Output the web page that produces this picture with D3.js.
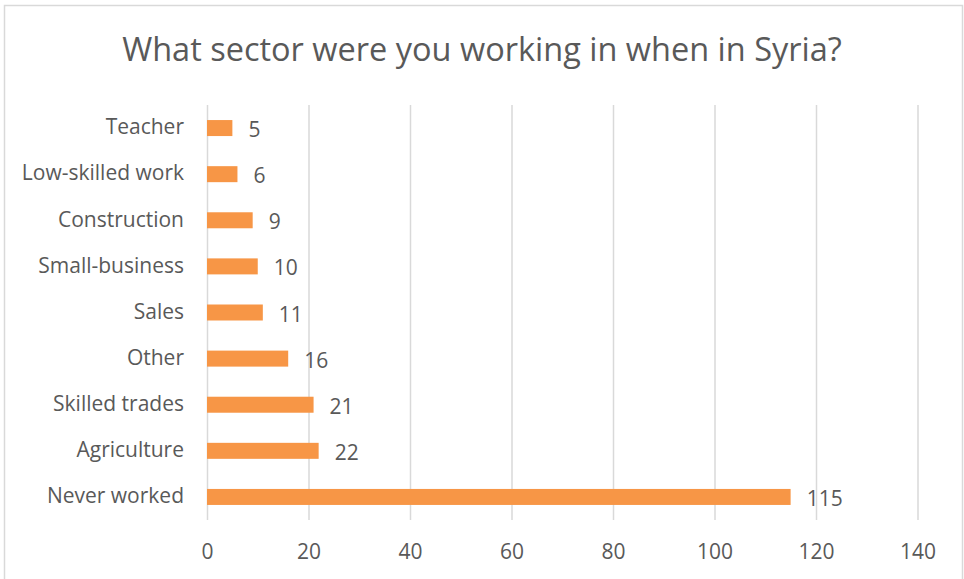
<!DOCTYPE html>
<html>
<head>
<meta charset="utf-8">
<script src="https://cdn.jsdelivr.net/npm/d3@7"></script>
<style>
  html, body { margin: 0; padding: 0; background: #ffffff; }
  svg { display: block; }
  text { font-family: "Open Sans", "Noto Sans", sans-serif; fill: #595959; }
</style>
</head>
<body>
<script>
const title = "What sector were you working in when in Syria?";
const categories = ["Teacher", "Low-skilled work", "Construction", "Small-business", "Sales", "Other", "Skilled trades", "Agriculture", "Never worked"];
const values = [5, 6, 9, 10, 11, 16, 21, 22, 115];
const xTicks = [0, 20, 40, 60, 80, 100, 120, 140];

const W = 964, H = 579;
const svg = d3.select("body").append("svg").attr("width", W).attr("height", H);

// chart border
svg.append("rect")
  .attr("x", 4.5).attr("y", 5.5)
  .attr("width", 958).attr("height", 600)
  .attr("fill", "#fff").attr("stroke", "#d9d9d9").attr("stroke-width", 1.5);

const x = d3.scaleLinear().domain([0, 140]).range([207, 917.5]);
const y = d3.scaleBand().domain(categories).range([105, 520])
  .paddingInner(0.653).paddingOuter(0.653 / 2);

// title
svg.append("text")
  .attr("x", 482).attr("y", 61)
  .attr("text-anchor", "middle")
  .style("font-size", "32.5px")
  .text(title);

// gridlines
const xAxis = d3.axisBottom(x).tickValues(xTicks).tickSize(-(520 - 105)).tickPadding(14).tickFormat(d3.format("d"));
const gx = svg.append("g").attr("transform", "translate(0,520)").call(xAxis);
gx.select(".domain").remove();
gx.selectAll(".tick line").attr("stroke", "#d9d9d9").attr("stroke-width", 1.5);
gx.selectAll(".tick text")
  .attr("y", 0).attr("dy", null)
  .attr("transform", "translate(0,39)")
  .style("font-size", "21px").attr("fill", "#595959");

// category axis
const yAxis = d3.axisLeft(y).tickSize(0).tickPadding(0);
const gy = svg.append("g").attr("transform", "translate(184,0)").call(yAxis);
gy.select(".domain").remove();
gy.selectAll(".tick text")
  .attr("x", 0).attr("dy", "0.3em")
  .style("font-size", "21px").attr("fill", "#595959");

// bars
svg.append("g").selectAll("rect").data(values).join("rect")
  .attr("x", x(0))
  .attr("y", (d, i) => y(categories[i]))
  .attr("width", d => x(d) - x(0))
  .attr("height", y.bandwidth())
  .attr("fill", "#f79646");

// value labels
svg.append("g").selectAll("text").data(values).join("text")
  .attr("x", d => x(d) + 16)
  .attr("y", (d, i) => y(categories[i]) + y.bandwidth() / 2 + 9)
  .style("font-size", "21px")
  .text(d => d);
</script>
</body>
</html>
